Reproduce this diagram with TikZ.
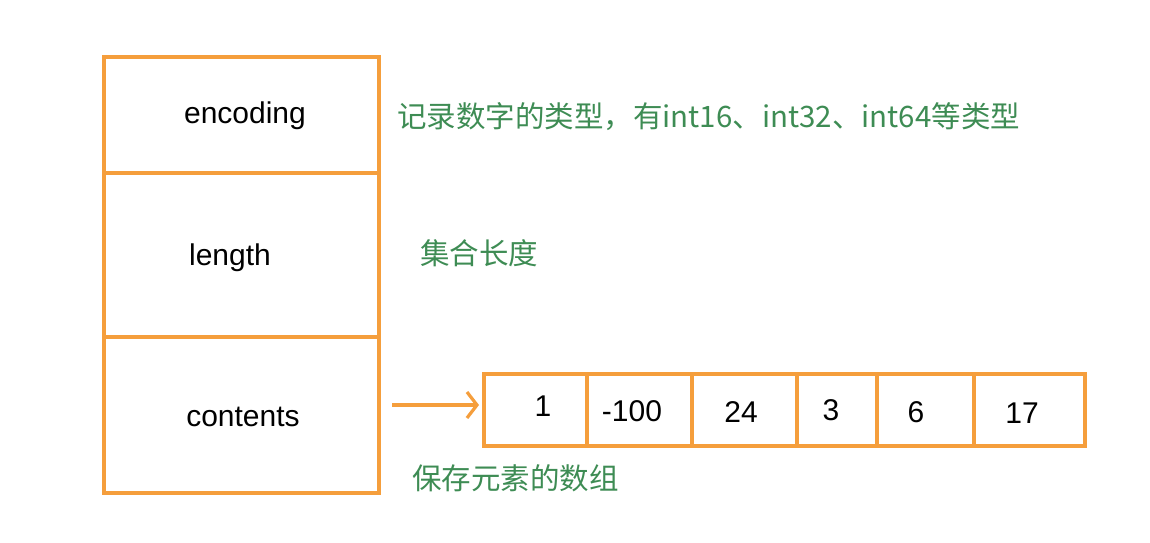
\documentclass[tikz,border=0pt]{standalone}
\usepackage{fontspec}
\setmainfont{Liberation Sans}
\newfontfamily\cjk{Noto Sans CJK SC}
\usetikzlibrary{arrows.meta}
\definecolor{boxorange}{RGB}{245,158,60}
\definecolor{notegreen}{RGB}{62,140,84}
\tikzset{
  cell/.style={draw=boxorange, line width=3.4pt, rectangle, inner sep=0pt, outer sep=0pt},
  lbl/.style={font=\fontsize{30}{35}\selectfont, text=black, inner sep=0pt},
  note/.style={font=\cjk\fontsize{29.5}{34}\selectfont, text=notegreen, anchor=west, inner sep=0pt},
  pointer/.style={draw=boxorange, line width=3.2pt, -{Straight Barb[length=10pt,width=26pt,line width=3.2pt]}}
}
\begin{document}
\begin{tikzpicture}[x=1pt,y=-1pt]
\useasboundingbox (0,0) rectangle (1150,542);
% left structure
\node[cell, minimum width=275pt, minimum height=116pt] (enc) at (241.5,115) {};
\node[cell, minimum width=275pt, minimum height=164pt] (len) at (241.5,255) {};
\node[cell, minimum width=275pt, minimum height=156pt] (con) at (241.5,415) {};
\node[lbl] (encT) at (245,116) {encoding};
\node[lbl] (lenT) at (230,258) {length};
\node[lbl] (conT) at (243,417) {contents};
% array
\node[cell, minimum width=103pt, minimum height=72pt] (a1) at (535.5,410) {};
\node[cell, minimum width=105pt, minimum height=72pt] (a2) at (639.5,410) {};
\node[cell, minimum width=105pt, minimum height=72pt] (a3) at (744.5,410) {};
\node[cell, minimum width=80pt, minimum height=72pt] (a4) at (837,410) {};
\node[cell, minimum width=97pt, minimum height=72pt] (a5) at (925.5,410) {};
\node[cell, minimum width=111pt, minimum height=72pt] (a6) at (1029.5,410) {};
\node[lbl] (v1) at (543,406) {1};
\node[lbl] (v2) at (632,411) {-100};
\node[lbl] (v3) at (741,412) {24};
\node[lbl] (v4) at (831,410) {3};
\node[lbl] (v5) at (916,412) {6};
\node[lbl] (v6) at (1022,413) {17};
% arrow
\coordinate (arrS) at (392,405);
\draw[pointer, shorten >=5pt] (arrS) -- (a1.west |- arrS);
% notes
\node[note] (n1) at (397,117) {记录数字的类型，有int16、int32、int64等类型};
\node[note] (n2) at (420,253) {集合长度};
\node[note] (n3) at (412,478) {保存元素的数组};
\end{tikzpicture}
\end{document}
